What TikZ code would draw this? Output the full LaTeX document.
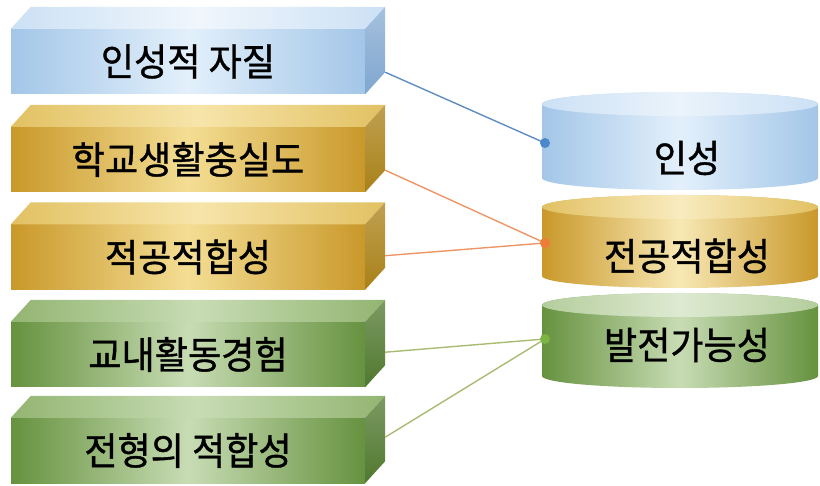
\documentclass[tikz,border=0pt]{standalone}
\usepackage{fontspec}
\newfontfamily\kor[FakeStretch=0.95, FakeBold=1]{Noto Sans CJK KR}
\definecolor{blueA}{HTML}{A3C6E8}
\definecolor{blueB}{HTML}{E3F0FB}
\definecolor{blueTop}{HTML}{CCE1F5}
\definecolor{blueSide}{HTML}{7FA6CF}
\definecolor{goldA}{HTML}{C9982A}
\definecolor{goldB}{HTML}{F4DE94}
\definecolor{goldTop}{HTML}{E2C163}
\definecolor{goldSide}{HTML}{A98118}
\definecolor{greenA}{HTML}{66923F}
\definecolor{greenB}{HTML}{C8DCB4}
\definecolor{greenTop}{HTML}{93B572}
\definecolor{greenSide}{HTML}{50782F}
\definecolor{blueLine}{HTML}{5F8DC0}
\definecolor{orangeLine}{HTML}{EC9566}
\definecolor{greenLine}{HTML}{A9BB72}
\definecolor{blueDot}{HTML}{4A88CA}
\definecolor{orangeDot}{HTML}{F07C3A}
\definecolor{greenDot}{HTML}{7CB342}
\begin{document}
\begin{tikzpicture}[x=1pt, y=-1pt,
  front/.style={minimum width=354pt, minimum height=65pt, inner sep=0pt, shade, font=\kor\fontsize{38}{42}\selectfont},
  label/.style={inner sep=0pt, font=\kor\fontsize{38}{42}\selectfont},
  link/.style={line width=1.4pt}]
\useasboundingbox (0, 0) rectangle (820, 486);
\node [front, left color=blueA, right color=blueA, middle color=blueB] (insungjajil) at (188, 61.5) {인성적 자질};
\node [front, left color=goldA, right color=goldA, middle color=goldB] (hakgyo) at (188, 159.5) {학교생활충실도};
\node [front, left color=goldA, right color=goldA, middle color=goldB] (jeokgong) at (188, 257) {적공적합성};
\node [front, left color=greenA, right color=greenA, middle color=greenB] (gyonae) at (188, 354.5) {교내활동경험};
\node [front, left color=greenA, right color=greenA, middle color=greenB] (jeonhyeong) at (188, 450.5) {전형의 적합성};
\shade [left color=blueTop, right color=blueTop, middle color=white!70!blueTop] (insungjajil.north west) -- ++(20, -22) -- ([shift={(20, -22)}]insungjajil.north east) -- (insungjajil.north east) -- cycle;
\shade [top color=blueSide!70!white, bottom color=blueSide] (insungjajil.north east) -- ++(20, -22) -- ([shift={(20, -22)}]insungjajil.south east) -- (insungjajil.south east) -- cycle;
\shade [left color=goldTop, right color=goldTop, middle color=goldB!80!white] (hakgyo.north west) -- ++(20, -22) -- ([shift={(20, -22)}]hakgyo.north east) -- (hakgyo.north east) -- cycle;
\shade [top color=goldSide!75!white, bottom color=goldSide] (hakgyo.north east) -- ++(20, -22) -- ([shift={(20, -22)}]hakgyo.south east) -- (hakgyo.south east) -- cycle;
\shade [left color=goldTop, right color=goldTop, middle color=goldB!80!white] (jeokgong.north west) -- ++(20, -22) -- ([shift={(20, -22)}]jeokgong.north east) -- (jeokgong.north east) -- cycle;
\shade [top color=goldSide!75!white, bottom color=goldSide] (jeokgong.north east) -- ++(20, -22) -- ([shift={(20, -22)}]jeokgong.south east) -- (jeokgong.south east) -- cycle;
\shade [left color=greenTop, right color=greenTop, middle color=greenB] (gyonae.north west) -- ++(20, -22) -- ([shift={(20, -22)}]gyonae.north east) -- (gyonae.north east) -- cycle;
\shade [top color=greenSide!75!white, bottom color=greenSide] (gyonae.north east) -- ++(20, -22) -- ([shift={(20, -22)}]gyonae.south east) -- (gyonae.south east) -- cycle;
\shade [left color=greenTop, right color=greenTop, middle color=greenB] (jeonhyeong.north west) -- ++(20, -22) -- ([shift={(20, -22)}]jeonhyeong.north east) -- (jeonhyeong.north east) -- cycle;
\shade [top color=greenSide!75!white, bottom color=greenSide] (jeonhyeong.north east) -- ++(20, -22) -- ([shift={(20, -22)}]jeonhyeong.south east) -- (jeonhyeong.south east) -- cycle;
\shade [left color=blueA, right color=blueA, middle color=blueB] (542, 104) -- (542, 178) arc (180:0:138 and 12) -- (818, 104) arc (0:-180:138 and 12) -- cycle;
\shade [left color=blueTop, right color=blueTop, middle color=white!60!blueTop] (680, 104) ellipse (138 and 12);
\shade [left color=goldA, right color=goldA, middle color=goldB!70!white] (542, 207) -- (542, 276) arc (180:0:138 and 12) -- (818, 207) arc (0:-180:138 and 12) -- cycle;
\shade [left color=goldTop, right color=goldTop, middle color=goldB!60!white] (680, 207) ellipse (138 and 12);
\shade [left color=greenA, right color=greenA, middle color=greenB] (542, 305) -- (542, 376) arc (180:0:138 and 12) -- (818, 305) arc (0:-180:138 and 12) -- cycle;
\shade [left color=greenB!80!greenA, right color=greenB!80!greenA, middle color=greenB!60!white] (680, 305) ellipse (138 and 12);
\node [label] (insung) at (687, 158) {인성};
\node [label] (jeongong) at (687, 256) {전공적합성};
\node [label] (baljeon) at (687, 345) {발전가능성};
\coordinate (insung-dot) at (545, 143);
\coordinate (jeongong-dot) at (545, 243);
\coordinate (baljeon-dot) at (545, 339);
\draw [link, blueLine] ([shift={(20, -22)}]insungjajil.south east) -- (insung-dot);
\draw [link, orangeLine] ([shift={(20, -22)}]hakgyo.south east) -- (jeongong-dot);
\draw [link, orangeLine] ([shift={(20, -34)}]jeokgong.south east) -- (jeongong-dot);
\draw [link, greenLine] ([shift={(20, -35)}]gyonae.south east) -- (baljeon-dot);
\draw [link, greenLine] ([shift={(20, -46)}]jeonhyeong.south east) -- (baljeon-dot);
\fill [blueDot] (insung-dot) circle (5);
\fill [orangeDot] (jeongong-dot) circle (5);
\fill [greenDot] (baljeon-dot) circle (5);
\end{tikzpicture}
\end{document}
